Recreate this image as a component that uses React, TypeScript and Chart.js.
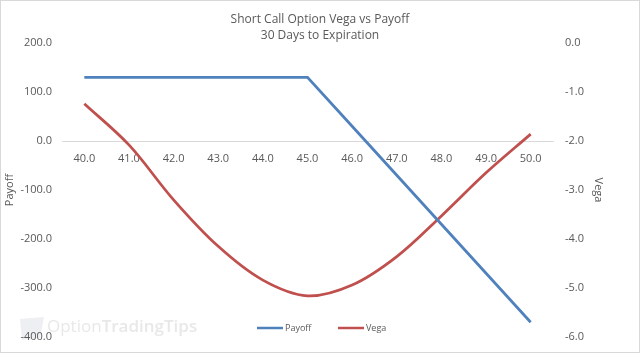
import React, { useEffect, useRef } from "react";
import { Chart, registerables } from "chart.js";

Chart.register(...registerables);

const strikes = ["40.0", "41.0", "42.0", "43.0", "44.0", "45.0", "46.0", "47.0", "48.0", "49.0", "50.0"];
const payoff = [130, 130, 130, 130, 130, 130, 30, -70, -170, -270, -370];
const vega = [-1.24, -2.08, -3.2, -4.15, -4.84, -5.16, -4.94, -4.36, -3.53, -2.65, -1.86];
const titleLines = ["Short Call Option Vega vs Payoff", "30 Days to Expiration"];
const payoffLabel = "Payoff";
const vegaLabel = "Vega";
const watermarkA = "Option";
const watermarkB = "TradingTips";

const FONT = "'Open Sans', 'Noto Sans', sans-serif";
const TXT = "#595959";
const BLUE = "#4F81BD";
const RED = "#C0504D";
const CLEAR = "rgba(0,0,0,0)";

const decorPlugin = {
  id: "decor",
  beforeDraw(chart: any) {
    const ctx = chart.ctx;
    ctx.save();
    ctx.fillStyle = "#ffffff";
    ctx.fillRect(0, 0, chart.width, chart.height);
    // watermark logo
    ctx.fillStyle = "rgba(205,210,222,0.35)";
    ctx.beginPath();
    ctx.moveTo(20, 319);
    ctx.lineTo(44, 317);
    ctx.lineTo(40, 338);
    ctx.lineTo(22, 340);
    ctx.closePath();
    ctx.fill();
    ctx.font = `17px ${FONT}`;
    ctx.fillStyle = "rgba(210,210,210,0.5)";
    ctx.textBaseline = "middle";
    ctx.textAlign = "left";
    ctx.fillText(watermarkA, 47, 327);
    const w = ctx.measureText(watermarkA).width;
    ctx.font = `600 17px ${FONT}`;
    ctx.fillText(watermarkB, 47 + w, 327);
    ctx.restore();
  },
  afterDraw(chart: any) {
    const ctx = chart.ctx;
    ctx.save();
    // title
    ctx.fillStyle = TXT;
    ctx.font = `12px ${FONT}`;
    ctx.textAlign = "center";
    ctx.textBaseline = "middle";
    ctx.fillText(titleLines[0], 320, 20);
    ctx.fillText(titleLines[1], 320, 36);
    // legend
    const ds = chart.data.datasets;
    const items = [
      { x: 257, ds: ds[0] },
      { x: 338, ds: ds[1] },
    ];
    ctx.font = `9px ${FONT}`;
    ctx.textAlign = "left";
    for (const it of items) {
      ctx.strokeStyle = it.ds.borderColor;
      ctx.lineWidth = 2.5;
      ctx.beginPath();
      ctx.moveTo(it.x, 328);
      ctx.lineTo(it.x + 26, 328);
      ctx.stroke();
      ctx.fillStyle = TXT;
      ctx.fillText(it.ds.label, it.x + 28, 328);
    }
    // border
    ctx.strokeStyle = "#d9d9d9";
    ctx.lineWidth = 1;
    ctx.strokeRect(0.5, 0.5, chart.width - 1, chart.height - 1);
    ctx.restore();
  },
};

export default function App() {
  const ref = useRef<HTMLCanvasElement>(null);
  useEffect(() => {
    const chart = new Chart(ref.current as HTMLCanvasElement, {
      type: "line",
      data: {
        labels: strikes,
        datasets: [
          {
            label: payoffLabel,
            data: payoff,
            borderColor: BLUE,
            backgroundColor: BLUE,
            borderWidth: 2.75,
            pointRadius: 0,
            tension: 0,
            yAxisID: "y",
          },
          {
            label: vegaLabel,
            data: vega,
            borderColor: RED,
            backgroundColor: RED,
            borderWidth: 2.75,
            pointRadius: 0,
            tension: 0.35,
            yAxisID: "y1",
          },
        ],
      },
      options: {
        animation: false,
        responsive: false,
        maintainAspectRatio: false,
        layout: { padding: { top: 43, bottom: 16, left: 0, right: 0 } },
        plugins: {
          legend: { display: false },
          title: { display: false },
          tooltip: { enabled: false },
        },
        scales: {
          x: {
            type: "category",
            position: { y: 0 } as any,
            offset: true,
            grid: { display: false },
            border: { display: true, color: "#d9d9d9", width: 1 },
            afterFit: (s: any) => { s.height = 0; },
            ticks: { color: TXT, font: { family: FONT, size: 11 }, padding: 3, maxRotation: 0, autoSkip: false },
          },
          y: {
            type: "linear",
            position: "left",
            min: -400,
            max: 200,
            grid: { display: true, drawOnChartArea: false, drawTicks: true, tickLength: 10, color: CLEAR },
            border: { display: false },
            afterFit: (s: any) => { s.width = 62; },
            ticks: {
              stepSize: 100,
              color: TXT,
              font: { family: FONT, size: 11 },
              padding: 0,
              callback: (v: any) => Number(v).toFixed(1),
            },
            title: {
              display: true,
              text: payoffLabel,
              color: TXT,
              font: { family: FONT, size: 11 },
              padding: { top: 3, bottom: 0 },
            },
          },
          y1: {
            type: "linear",
            position: "right",
            min: -6,
            max: 0,
            grid: { display: true, drawOnChartArea: false, drawTicks: true, tickLength: 12, color: CLEAR },
            border: { display: false },
            afterFit: (s: any) => { s.width = 87; },
            ticks: {
              stepSize: 1,
              color: TXT,
              font: { family: FONT, size: 11 },
              padding: 0,
              callback: (v: any) => Number(v).toFixed(1),
            },
            title: {
              display: true,
              text: vegaLabel,
              color: TXT,
              font: { family: FONT, size: 11 },
              padding: { top: 35, bottom: 0 },
            },
          },
        },
      } as any,
      plugins: [decorPlugin],
    });
    return () => chart.destroy();
  }, []);
  return (
    <div style={{ position: "fixed", left: 0, top: 0, width: 640, height: 353 }}>
      <canvas ref={ref} width={640} height={353} style={{ display: "block", width: 640, height: 353 }} />
    </div>
  );
}
